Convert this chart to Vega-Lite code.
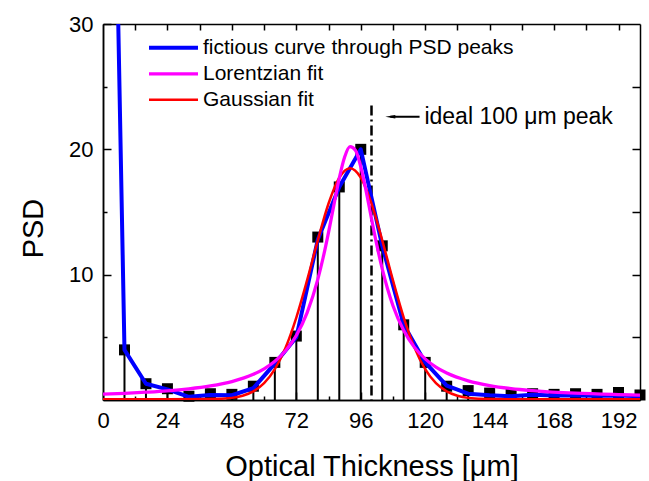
{
  "$schema": "https://vega.github.io/schema/vega-lite/v6.json",
  "width": 537,
  "height": 376,
  "autosize": {"type": "none"},
  "padding": {"left": 103, "top": 24, "right": 9, "bottom": 81},
  "config": {
    "view": {"stroke": null},
    "font": "Liberation Sans",
    "axis": {
      "domainColor": "black", "domainWidth": 1.5, "tickColor": "black", "tickWidth": 1.5,
      "labelColor": "black", "titleColor": "black", "grid": false,
      "labelFont": "Liberation Sans", "titleFont": "Liberation Sans", "titleFontWeight": "normal"
    }
  },
  "datasets": {
    "psd": [
      {"x": 8, "y": 4.0}, {"x": 16, "y": 1.3}, {"x": 24, "y": 0.9}, {"x": 32, "y": 0.3},
      {"x": 40, "y": 0.5}, {"x": 48, "y": 0.45}, {"x": 56, "y": 1.1}, {"x": 64, "y": 3.0},
      {"x": 72, "y": 5.1}, {"x": 80, "y": 13.0}, {"x": 88, "y": 17.0}, {"x": 96, "y": 20.0},
      {"x": 104, "y": 12.3}, {"x": 112, "y": 6.0}, {"x": 120, "y": 3.0}, {"x": 128, "y": 1.1},
      {"x": 136, "y": 0.75}, {"x": 144, "y": 0.55}, {"x": 152, "y": 0.45}, {"x": 160, "y": 0.5},
      {"x": 168, "y": 0.45}, {"x": 176, "y": 0.5}, {"x": 184, "y": 0.45}, {"x": 192, "y": 0.6},
      {"x": 200, "y": 0.4}
    ],
    "blue": [
      {"series": "fictious curve through PSD peaks", "x": 0, "y": 94},
      {"series": "fictious curve through PSD peaks", "x": 8, "y": 4.0},
      {"series": "fictious curve through PSD peaks", "x": 16, "y": 1.3},
      {"series": "fictious curve through PSD peaks", "x": 24, "y": 0.85},
      {"series": "fictious curve through PSD peaks", "x": 32, "y": 0.25},
      {"series": "fictious curve through PSD peaks", "x": 40, "y": 0.4},
      {"series": "fictious curve through PSD peaks", "x": 48, "y": 0.38},
      {"series": "fictious curve through PSD peaks", "x": 56, "y": 0.95},
      {"series": "fictious curve through PSD peaks", "x": 64, "y": 2.9},
      {"series": "fictious curve through PSD peaks", "x": 72, "y": 5.0},
      {"series": "fictious curve through PSD peaks", "x": 80, "y": 12.8},
      {"series": "fictious curve through PSD peaks", "x": 88, "y": 17.0},
      {"series": "fictious curve through PSD peaks", "x": 96, "y": 20.0},
      {"series": "fictious curve through PSD peaks", "x": 104, "y": 12.3},
      {"series": "fictious curve through PSD peaks", "x": 112, "y": 6.0},
      {"series": "fictious curve through PSD peaks", "x": 120, "y": 3.0},
      {"series": "fictious curve through PSD peaks", "x": 128, "y": 1.15},
      {"series": "fictious curve through PSD peaks", "x": 136, "y": 0.5},
      {"series": "fictious curve through PSD peaks", "x": 144, "y": 0.38},
      {"series": "fictious curve through PSD peaks", "x": 152, "y": 0.3},
      {"series": "fictious curve through PSD peaks", "x": 160, "y": 0.42},
      {"series": "fictious curve through PSD peaks", "x": 168, "y": 0.35},
      {"series": "fictious curve through PSD peaks", "x": 176, "y": 0.35},
      {"series": "fictious curve through PSD peaks", "x": 184, "y": 0.33},
      {"series": "fictious curve through PSD peaks", "x": 192, "y": 0.35},
      {"series": "fictious curve through PSD peaks", "x": 200, "y": 0.3}
    ],
    "fits": [
      {"series": "Gaussian fit", "x": 0, "y": 0.05},
      {"series": "Gaussian fit", "x": 24, "y": 0.05},
      {"series": "Gaussian fit", "x": 40, "y": 0.07},
      {"series": "Gaussian fit", "x": 48, "y": 0.17},
      {"series": "Gaussian fit", "x": 52, "y": 0.34},
      {"series": "Gaussian fit", "x": 56, "y": 0.69},
      {"series": "Gaussian fit", "x": 60, "y": 1.34},
      {"series": "Gaussian fit", "x": 64, "y": 2.46},
      {"series": "Gaussian fit", "x": 68, "y": 4.18},
      {"series": "Gaussian fit", "x": 72, "y": 6.58},
      {"series": "Gaussian fit", "x": 76, "y": 9.54},
      {"series": "Gaussian fit", "x": 80, "y": 12.74},
      {"series": "Gaussian fit", "x": 84, "y": 15.68},
      {"series": "Gaussian fit", "x": 88, "y": 17.75},
      {"series": "Gaussian fit", "x": 92, "y": 18.5},
      {"series": "Gaussian fit", "x": 96, "y": 17.75},
      {"series": "Gaussian fit", "x": 100, "y": 15.68},
      {"series": "Gaussian fit", "x": 104, "y": 12.74},
      {"series": "Gaussian fit", "x": 108, "y": 9.54},
      {"series": "Gaussian fit", "x": 112, "y": 6.58},
      {"series": "Gaussian fit", "x": 116, "y": 4.18},
      {"series": "Gaussian fit", "x": 120, "y": 2.46},
      {"series": "Gaussian fit", "x": 124, "y": 1.34},
      {"series": "Gaussian fit", "x": 128, "y": 0.69},
      {"series": "Gaussian fit", "x": 132, "y": 0.34},
      {"series": "Gaussian fit", "x": 136, "y": 0.17},
      {"series": "Gaussian fit", "x": 144, "y": 0.07},
      {"series": "Gaussian fit", "x": 160, "y": 0.05},
      {"series": "Gaussian fit", "x": 200, "y": 0.05},
      {"series": "Lorentzian fit", "x": 0, "y": 0.47},
      {"series": "Lorentzian fit", "x": 8, "y": 0.53},
      {"series": "Lorentzian fit", "x": 16, "y": 0.62},
      {"series": "Lorentzian fit", "x": 24, "y": 0.73},
      {"series": "Lorentzian fit", "x": 32, "y": 0.89},
      {"series": "Lorentzian fit", "x": 40, "y": 1.12},
      {"series": "Lorentzian fit", "x": 48, "y": 1.47},
      {"series": "Lorentzian fit", "x": 56, "y": 2.05},
      {"series": "Lorentzian fit", "x": 60, "y": 2.49},
      {"series": "Lorentzian fit", "x": 64, "y": 3.09},
      {"series": "Lorentzian fit", "x": 68, "y": 3.93},
      {"series": "Lorentzian fit", "x": 72, "y": 5.15},
      {"series": "Lorentzian fit", "x": 76, "y": 6.95},
      {"series": "Lorentzian fit", "x": 80, "y": 9.62},
      {"series": "Lorentzian fit", "x": 82, "y": 11.37},
      {"series": "Lorentzian fit", "x": 84, "y": 13.38},
      {"series": "Lorentzian fit", "x": 86, "y": 15.57},
      {"series": "Lorentzian fit", "x": 88, "y": 17.70},
      {"series": "Lorentzian fit", "x": 90, "y": 19.39},
      {"series": "Lorentzian fit", "x": 92, "y": 20.21},
      {"series": "Lorentzian fit", "x": 94, "y": 19.93},
      {"series": "Lorentzian fit", "x": 96, "y": 18.62},
      {"series": "Lorentzian fit", "x": 98, "y": 16.66},
      {"series": "Lorentzian fit", "x": 100, "y": 14.47},
      {"series": "Lorentzian fit", "x": 102, "y": 12.35},
      {"series": "Lorentzian fit", "x": 104, "y": 10.46},
      {"series": "Lorentzian fit", "x": 106, "y": 8.86},
      {"series": "Lorentzian fit", "x": 108, "y": 7.52},
      {"series": "Lorentzian fit", "x": 112, "y": 5.54},
      {"series": "Lorentzian fit", "x": 116, "y": 4.20},
      {"series": "Lorentzian fit", "x": 120, "y": 3.28},
      {"series": "Lorentzian fit", "x": 124, "y": 2.62},
      {"series": "Lorentzian fit", "x": 128, "y": 2.15},
      {"series": "Lorentzian fit", "x": 136, "y": 1.53},
      {"series": "Lorentzian fit", "x": 144, "y": 1.15},
      {"series": "Lorentzian fit", "x": 152, "y": 0.91},
      {"series": "Lorentzian fit", "x": 160, "y": 0.75},
      {"series": "Lorentzian fit", "x": 176, "y": 0.54},
      {"series": "Lorentzian fit", "x": 192, "y": 0.43},
      {"series": "Lorentzian fit", "x": 200, "y": 0.39}
    ],
    "ideal": [{"x": 100, "top": 23.5}],
    "arrow": [{"x": 107, "x2": 117.9, "y": 22.6, "label": "ideal 100 μm peak", "tx": 119.7}]
  },
  "layer": [
    {
      "data": {"name": "psd"},
      "mark": {"type": "rule", "color": "black", "strokeWidth": 2},
      "encoding": {
        "x": {"field": "x", "type": "quantitative",
          "scale": {"domain": [0, 200], "nice": false, "zero": false},
          "axis": {"orient": "bottom", "values": [0, 24, 48, 72, 96, 120, 144, 168, 192],
            "tickSize": -8, "labelPadding": 18, "labelFontSize": 22, "labelFlush": false,
            "title": "Optical Thickness [μm]", "titleFontSize": 29, "titleY": 75, "titleBaseline": "alphabetic"}},
        "y": {"field": "y", "type": "quantitative",
          "scale": {"domain": [0, 30], "nice": false},
          "axis": {"orient": "left", "values": [10, 20, 30], "tickSize": -8, "labelPadding": 18,
            "labelFontSize": 22, "labelFlush": false,
            "title": "PSD", "titleFontSize": 29, "titleX": -61, "titleY": 204, "titleBaseline": "alphabetic", "titleAlign": "center"}},
        "y2": {"datum": 0}
      }
    },
    {
      "data": {"name": "psd"},
      "mark": {"type": "square", "size": 121, "color": "black", "opacity": 1},
      "encoding": {
        "x": {"field": "x", "type": "quantitative",
          "scale": {"domain": [0, 200], "nice": false, "zero": false},
          "axis": {"orient": "bottom", "values": [12, 36, 60, 84, 108, 132, 156, 180],
            "tickSize": -4, "labels": false, "title": null}},
        "y": {"field": "y", "type": "quantitative",
          "scale": {"domain": [0, 30], "nice": false},
          "axis": {"orient": "left", "values": [5, 15, 25], "tickSize": -4, "labels": false, "title": null}}
      }
    },
    {
      "data": {"name": "ideal"},
      "mark": {"type": "rule", "color": "black", "strokeWidth": 2.5, "strokeDash": [10, 4, 2, 4]},
      "encoding": {
        "x": {"field": "x", "type": "quantitative", "scale": {"domain": [0, 200], "nice": false, "zero": false}, "axis": null},
        "y": {"field": "top", "type": "quantitative", "scale": {"domain": [0, 30], "nice": false}, "axis": null},
        "y2": {"datum": 0}
      }
    },
    {
      "data": {"name": "blue"},
      "mark": {"type": "line", "interpolate": "linear", "clip": true, "strokeJoin": "round"},
      "encoding": {
        "x": {"field": "x", "type": "quantitative",
          "scale": {"domain": [0, 200], "nice": false, "zero": false},
          "axis": {"orient": "top", "values": [12, 24, 36, 48, 60, 72, 84, 96, 108, 120, 132, 144, 156, 168, 180, 192],
            "tickSize": -6, "labels": false, "title": null}},
        "y": {"field": "y", "type": "quantitative",
          "scale": {"domain": [0, 30], "nice": false},
          "axis": {"orient": "right", "values": [5, 10, 15, 20, 25], "tickSize": -8, "labels": false, "title": null}},
        "color": {"field": "series", "type": "nominal",
          "scale": {"domain": ["fictious curve through PSD peaks", "Lorentzian fit", "Gaussian fit"],
            "range": ["#0000ff", "#ff00ff", "#ff0000"]},
          "legend": {"orient": "none", "legendX": 44, "legendY": 11, "title": null,
            "symbolType": "stroke", "symbolSize": 2401, "labelFontSize": 21, "labelFont": "Liberation Sans",
            "labelColor": "black", "labelOffset": 3, "padding": 0, "rowPadding": 0, "clipHeight": 25.5, "labelLimit": 600}},
        "strokeWidth": {"field": "series", "type": "nominal",
          "scale": {"domain": ["fictious curve through PSD peaks", "Lorentzian fit", "Gaussian fit"],
            "range": [4, 2.5, 2.5]}}
      }
    },
    {
      "data": {"name": "fits"},
      "mark": {"type": "line", "interpolate": "monotone", "clip": true},
      "encoding": {
        "x": {"field": "x", "type": "quantitative", "scale": {"domain": [0, 200], "nice": false, "zero": false}, "axis": null},
        "y": {"field": "y", "type": "quantitative", "scale": {"domain": [0, 30], "nice": false}, "axis": null},
        "color": {"field": "series", "type": "nominal",
          "scale": {"domain": ["fictious curve through PSD peaks", "Lorentzian fit", "Gaussian fit"],
            "range": ["#0000ff", "#ff00ff", "#ff0000"]}},
        "strokeWidth": {"field": "series", "type": "nominal",
          "scale": {"domain": ["fictious curve through PSD peaks", "Lorentzian fit", "Gaussian fit"],
            "range": [4, 2.5, 2.5]}}
      }
    },
    {
      "data": {"name": "arrow"},
      "mark": {"type": "rule", "color": "black", "strokeWidth": 2},
      "encoding": {
        "x": {"field": "x", "type": "quantitative", "scale": {"domain": [0, 200], "nice": false, "zero": false}, "axis": null},
        "x2": {"field": "x2"},
        "y": {"field": "y", "type": "quantitative", "scale": {"domain": [0, 30], "nice": false}, "axis": null}
      }
    },
    {
      "data": {"name": "arrow"},
      "mark": {"type": "point", "shape": "M-1,0L1,-0.35L1,0.35Z", "size": 100, "filled": true, "color": "black", "opacity": 1},
      "encoding": {
        "x": {"field": "x", "type": "quantitative", "scale": {"domain": [0, 200], "nice": false, "zero": false}, "axis": null},
        "y": {"field": "y", "type": "quantitative", "scale": {"domain": [0, 30], "nice": false}, "axis": null}
      }
    },
    {
      "data": {"name": "arrow"},
      "mark": {"type": "text", "align": "left", "baseline": "middle", "fontSize": 23, "font": "Liberation Sans", "color": "black"},
      "encoding": {
        "x": {"field": "tx", "type": "quantitative", "scale": {"domain": [0, 200], "nice": false, "zero": false}, "axis": null},
        "y": {"field": "y", "type": "quantitative", "scale": {"domain": [0, 30], "nice": false}, "axis": null},
        "text": {"field": "label"}
      }
    }
  ],
  "resolve": {"axis": {"x": "independent", "y": "independent"}}
}
